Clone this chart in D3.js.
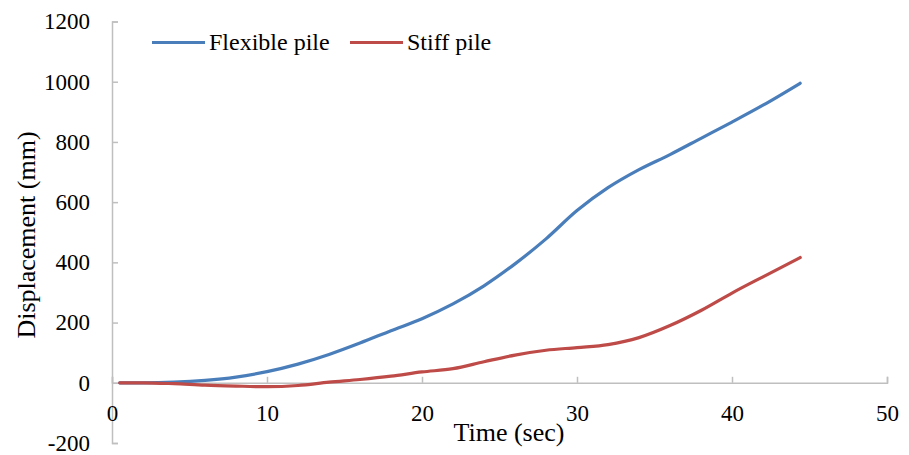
<!DOCTYPE html>
<html>
<head>
<meta charset="utf-8">
<script src="https://cdn.jsdelivr.net/npm/d3@7"></script>
<style>
  body { margin: 0; background: #fff; }
  svg text { font-family: "Liberation Serif", "Times New Roman", serif; fill: #000; }
</style>
</head>
<body>
<svg id="chart" width="909" height="455"></svg>
<script>
// time (sec) of the read points
var times = [0.5, 2, 4, 6, 8, 10, 12, 14, 16, 18, 20, 22, 24, 26, 28, 30, 32, 34, 36, 38, 40, 42, 44.4];
// displacement (mm)
var flexible = [0, 0, 2, 8, 19, 37, 62, 94, 132, 173, 213, 262, 322, 395, 478, 572, 648, 708, 758, 812, 866, 922, 995];
var stiff = [0, 0, -3, -8, -11, -13, -9, 2, 11, 22, 36, 47, 70, 92, 108, 117, 127, 150, 190, 240, 298, 352, 416];
var xTicks = [0, 10, 20, 30, 40, 50];
var yTicks = [-200, 0, 200, 400, 600, 800, 1000, 1200];
var seriesNames = ["Flexible pile", "Stiff pile"];
var seriesColors = ["#4a7ebb", "#be4b48"];

var serif = "'Liberation Serif', 'Times New Roman', serif";
var svg = d3.select("#chart");

var x = d3.scaleLinear().domain([0, 50]).range([112, 887]);
var y = d3.scaleLinear().domain([-200, 1200]).range([443, 21.5]);

var plain = function(d) { return String(d).replace("\u2212", "-"); };

// y axis, ticks pointing into the plot
var yAxis = d3.axisLeft(y)
    .tickValues(yTicks)
    .tickFormat(plain)
    .tickSizeInner(-6)
    .tickSizeOuter(-6)
    .tickPadding(22);
var gy = svg.append("g")
    .attr("transform", "translate(" + x(0) + ",0)")
    .call(yAxis);

// x axis sits on zero
var xAxis = d3.axisBottom(x)
    .tickValues(xTicks)
    .tickFormat(plain)
    .tickSizeInner(-6)
    .tickSizeOuter(-6)
    .tickPadding(22);
var gx = svg.append("g")
    .attr("transform", "translate(0," + y(0) + ")")
    .call(xAxis);

[gx, gy].forEach(function(g) {
    g.attr("font-family", serif).attr("font-size", 23);
    g.select(".domain").attr("stroke", "#bfbfbf").attr("stroke-width", 1.5);
    g.selectAll(".tick line").attr("stroke", "#bfbfbf").attr("stroke-width", 1.5);
    g.selectAll(".tick text").attr("fill", "#000");
});

var line = d3.line()
    .x(function(d) { return x(d[0]); })
    .y(function(d) { return y(d[1]); })
    .curve(d3.curveMonotoneX);

[flexible, stiff].forEach(function(vals, i) {
    svg.append("path")
        .datum(times.map(function(t, j) { return [t, vals[j]]; }))
        .attr("fill", "none")
        .attr("stroke", seriesColors[i])
        .attr("stroke-width", 3.2)
        .attr("stroke-linecap", "round")
        .attr("d", line);
});

// axis titles
svg.append("text")
    .attr("x", 509)
    .attr("y", 441)
    .attr("text-anchor", "middle")
    .attr("font-size", 26)
    .text("Time (sec)");

svg.append("text")
    .attr("transform", "translate(35,235) rotate(-90)")
    .attr("text-anchor", "middle")
    .attr("font-size", 26)
    .text("Displacement (mm)");

// legend
var legendX = [152, 350];
seriesNames.forEach(function(name, i) {
    var g = svg.append("g").attr("transform", "translate(" + legendX[i] + ",42.5)");
    g.append("line")
        .attr("x1", 0).attr("x2", 53)
        .attr("stroke", seriesColors[i])
        .attr("stroke-width", 3.2);
    g.append("text")
        .attr("x", 57)
        .attr("y", 7)
        .attr("font-size", 24)
        .text(name);
});
</script>
</body>
</html>
